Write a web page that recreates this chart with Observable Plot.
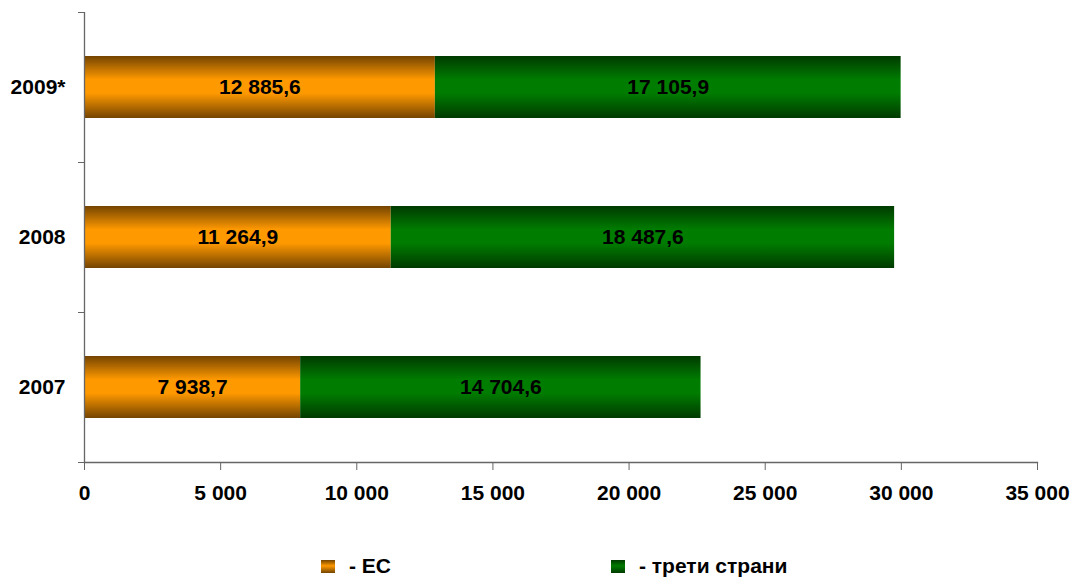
<!DOCTYPE html>
<html>
<head>
<meta charset="utf-8">
<script src="https://cdn.jsdelivr.net/npm/d3@7"></script>
<script src="https://cdn.jsdelivr.net/npm/@observablehq/plot@0.6"></script>
<style>
  body { margin: 0; background: #fff; }
  #wrap { position: relative; width: 1074px; height: 578px; overflow: hidden;
          font-family: "Liberation Sans", Arial, sans-serif; font-weight: bold; }
  #legend { position: absolute; left: 0; top: 554px; width: 1074px; height: 26px; font-size: 21px; color: #000; }
  .item { position: absolute; top: 0; display: flex; align-items: center; }
  .sw { width: 14px; height: 13px; margin-right: 14px; }
</style>
</head>
<body>
<div id="wrap">
  <div id="chart"></div>
  <div id="legend"></div>
</div>
<script>
const years = ["2009*", "2008", "2007"];
const seriesNames = ["- ЕС", "- трети страни"];
const euValues = [12885.6, 11264.9, 7938.7];
const thirdValues = [17105.9, 18487.6, 14704.6];
const xTicks = [0, 5000, 10000, 15000, 20000, 25000, 30000, 35000];
const gradientIds = ["gradEU", "gradThird"];

const locale = d3.formatLocale({decimal: ",", thousands: "\u00a0", grouping: [3]});
const fmtTick = locale.format(",.0f");
const fmtVal = locale.format(",.1f");

const rows = [];
years.forEach((y, i) => {
  rows.push({year: y, series: seriesNames[0], value: euValues[i], grad: gradientIds[0]});
  rows.push({year: y, series: seriesNames[1], value: thirdValues[i], grad: gradientIds[1]});
});

const font = '"Liberation Sans", Arial, sans-serif';

const plot = Plot.plot({
  width: 1074,
  height: 532,
  marginLeft: 84,
  marginRight: 37,
  marginTop: 12,
  marginBottom: 70,
  style: {fontFamily: font, fontWeight: "bold", fontSize: "21px", color: "#000", overflow: "visible"},
  x: {domain: [0, 35000]},
  y: {domain: years, paddingInner: 0.587, paddingOuter: 0.2935, label: null},
  marks: [
    Plot.barX(rows, Plot.stackX({
      y: "year", x: "value", order: null,
      fill: d => `url(#${d.grad})`
    })),
    Plot.text(rows, Plot.stackX({
      y: "year", x: "value", order: null,
      text: d => fmtVal(d.value),
      fill: "#000", fontSize: 21, fontWeight: "bold"
    })),
    Plot.axisY({tickSize: 0, tickPadding: 19, fontSize: 21, fontWeight: "bold", label: null}),
    Plot.axisY({tickSize: 6, text: null, dy: -75, stroke: "#666", label: null}),
    Plot.axisY([years[years.length - 1]], {tickSize: 6, text: null, dy: 75, stroke: "#666", label: null}),
    Plot.ruleX([0], {stroke: "#666", strokeWidth: 1.3}),
    Plot.frame({anchor: "bottom", stroke: "#666", strokeWidth: 1.3}),
    Plot.axisX({ticks: xTicks, tickFormat: fmtTick, tickSize: 8, tickPadding: 15, stroke: "#666", fontSize: 21, fontWeight: "bold", label: null})
  ]
});

// gradient definitions
const ns = "http://www.w3.org/2000/svg";
const defs = document.createElementNS(ns, "defs");
defs.innerHTML = `
  <linearGradient id="gradEU" x1="0" y1="0" x2="0" y2="1">
    <stop offset="0" stop-color="#744400"/>
    <stop offset="0.38" stop-color="#ff9900"/>
    <stop offset="0.6" stop-color="#ff9900"/>
    <stop offset="1" stop-color="#744400"/>
  </linearGradient>
  <linearGradient id="gradThird" x1="0" y1="0" x2="0" y2="1">
    <stop offset="0" stop-color="#003a00"/>
    <stop offset="0.38" stop-color="#007c00"/>
    <stop offset="0.6" stop-color="#007c00"/>
    <stop offset="1" stop-color="#003a00"/>
  </linearGradient>`;
plot.insertBefore(defs, plot.firstChild);
document.getElementById("chart").appendChild(plot);

// legend
const legendCss = [
  "linear-gradient(#744400, #ff9900 45%, #744400)",
  "linear-gradient(#003a00, #007c00 45%, #003a00)"
];
const legendLeft = [321, 611];
const legend = document.getElementById("legend");
seriesNames.forEach((name, i) => {
  const item = document.createElement("div");
  item.className = "item";
  item.style.left = legendLeft[i] + "px";
  const sw = document.createElement("div");
  sw.className = "sw";
  sw.style.background = legendCss[i];
  const t = document.createElement("span");
  t.textContent = name;
  item.appendChild(sw);
  item.appendChild(t);
  legend.appendChild(item);
});
</script>
</body>
</html>
